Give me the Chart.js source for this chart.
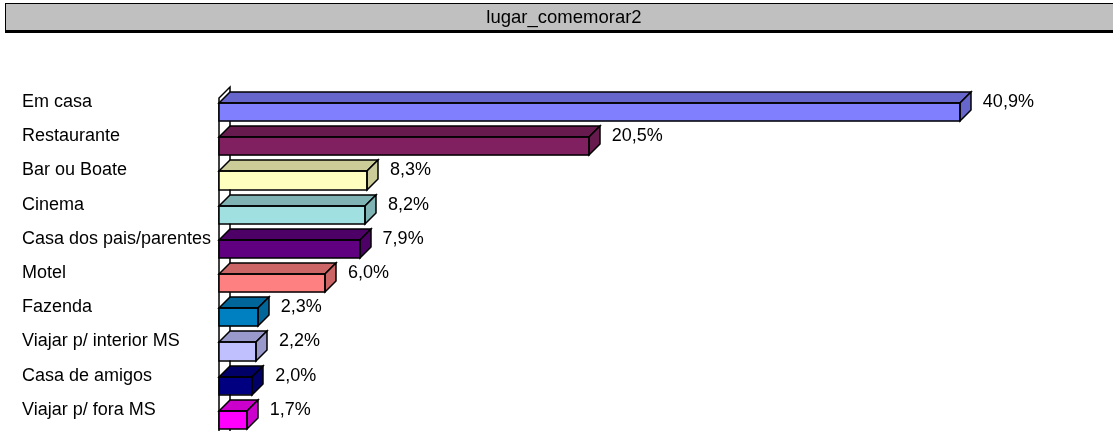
<!DOCTYPE html>
<html>
<head>
<meta charset="utf-8">
<script src="https://cdn.jsdelivr.net/npm/chart.js@4.4.1/dist/chart.umd.min.js"></script>
<style>
html,body{margin:0;padding:0;background:#fff;overflow:hidden}
#c{display:block}
</style>
</head>
<body>
<canvas id="c" width="1113" height="440"></canvas>
<script>
// ---- data ----
const chartTitle = 'lugar_comemorar2';
const categories = ['Em casa', 'Restaurante', 'Bar ou Boate', 'Cinema', 'Casa dos pais/parentes', 'Motel', 'Fazenda', 'Viajar p/ interior MS', 'Casa de amigos', 'Viajar p/ fora MS'];
const values = [40.9, 20.5, 8.3, 8.2, 7.9, 6.0, 2.3, 2.2, 2.0, 1.7];
const frontColors = ['#8080FF', '#802060', '#FFFFC0', '#A0E0E0', '#600080', '#FF8080', '#0080C0', '#C0C0FF', '#000080', '#FF00FF'];
const shadeColors = ['#6666CC', '#661A4D', '#CCCC99', '#80B3B3', '#4D0066', '#CC6666', '#006699', '#9999CC', '#000066', '#CC00CC'];

// ---- styles ----
const FONT = '"Liberation Sans", Arial, sans-serif';
const LABEL_SIZE = 18;
const DEPTH = 11;
const TEXT_LIFT = 10;
const AXIS_MIN = 0.17;
const AXIS_MAX = 48;

function fmt(v) { return v.toFixed(1).replace('.', ',') + '%'; }

const titlePlugin = {
  id: 'titleBox',
  beforeDraw(chart) {
    const ctx = chart.ctx;
    ctx.save();
    ctx.fillStyle = '#fff';
    ctx.fillRect(0, 0, chart.width, chart.height);
    ctx.fillStyle = '#C0C0C0';
    ctx.fillRect(5, 3, chart.width + 10, 28);
    ctx.strokeStyle = '#000';
    ctx.lineWidth = 1;
    ctx.strokeRect(5.5, 3.5, chart.width + 10, 27);
    ctx.fillStyle = '#000';
    ctx.fillRect(5, 31, chart.width + 10, 2);
    ctx.fillStyle = '#000';
    ctx.font = '18.5px ' + FONT;
    ctx.textAlign = 'center';
    ctx.textBaseline = 'middle';
    ctx.fillText(chartTitle, 564, 17.5);
    ctx.restore();
  }
};

const wallPlugin = {
  id: 'wall3d',
  beforeDatasetsDraw(chart) {
    const ctx = chart.ctx, a = chart.chartArea;
    const x0 = Math.round(a.left);
    const top = a.top + 3;
    ctx.save();
    ctx.strokeStyle = '#000';
    ctx.lineWidth = 1.5;
    ctx.beginPath();
    ctx.moveTo(x0, a.bottom + 20);
    ctx.lineTo(x0, top);
    ctx.lineTo(x0 + DEPTH, top - DEPTH);
    ctx.lineTo(x0 + DEPTH, a.bottom + 20);
    ctx.stroke();
    ctx.restore();
  }
};

const bar3dPlugin = {
  id: 'bar3d',
  afterDatasetsDraw(chart) {
    const ctx = chart.ctx;
    const meta = chart.getDatasetMeta(0);
    ctx.save();
    ctx.strokeStyle = '#000';
    ctx.lineWidth = 1.5;
    ctx.lineJoin = 'miter';
    meta.data.forEach((el, i) => {
      const p = el.getProps(['x', 'y', 'base', 'height'], true);
      const l = Math.round(p.base);
      const r = Math.round(p.x);
      const t = Math.round(p.y - p.height / 2);
      const b = Math.round(p.y + p.height / 2);
      ctx.fillStyle = shadeColors[i];
      // top face
      ctx.beginPath();
      ctx.moveTo(l, t);
      ctx.lineTo(l + DEPTH, t - DEPTH);
      ctx.lineTo(r + DEPTH, t - DEPTH);
      ctx.lineTo(r, t);
      ctx.closePath();
      ctx.fill();
      ctx.stroke();
      // side face
      ctx.beginPath();
      ctx.moveTo(r, t);
      ctx.lineTo(r + DEPTH, t - DEPTH);
      ctx.lineTo(r + DEPTH, b - DEPTH);
      ctx.lineTo(r, b);
      ctx.closePath();
      ctx.fill();
      ctx.stroke();
      // front outline
      ctx.strokeRect(l, t, r - l, b - t);
      // value label
      ctx.fillStyle = '#000';
      ctx.font = LABEL_SIZE + 'px ' + FONT;
      ctx.textAlign = 'left';
      ctx.textBaseline = 'middle';
      ctx.fillText(fmt(values[i]), p.x + DEPTH + 12, p.y - TEXT_LIFT);
    });
    ctx.restore();
  }
};

new Chart(document.getElementById('c'), {
  type: 'bar',
  data: {
    labels: categories,
    datasets: [{
      data: values,
      base: AXIS_MIN,
      backgroundColor: frontColors,
      borderWidth: 0,
      categoryPercentage: 1,
      barPercentage: 0.53
    }]
  },
  options: {
    indexAxis: 'y',
    responsive: false,
    maintainAspectRatio: false,
    devicePixelRatio: 1,
    animation: false,
    events: [],
    layout: { padding: { left: 22, right: 24, top: 95, bottom: 3 } },
    plugins: { legend: { display: false }, title: { display: false }, tooltip: { enabled: false } },
    scales: {
      x: { display: false, min: AXIS_MIN, max: AXIS_MAX },
      y: {
        grid: { display: false, drawTicks: false },
        border: { display: false },
        ticks: {
          crossAlign: 'far',
          color: '#000',
          padding: 0,
          labelOffset: -TEXT_LIFT,
          font: { family: FONT, size: LABEL_SIZE }
        },
        afterFit(scale) {
          scale.width = 219 - 22;
          scale.paddingTop = 0;
          scale.paddingBottom = 0;
        }
      }
    }
  },
  plugins: [titlePlugin, wallPlugin, bar3dPlugin]
});
</script>
</body>
</html>
